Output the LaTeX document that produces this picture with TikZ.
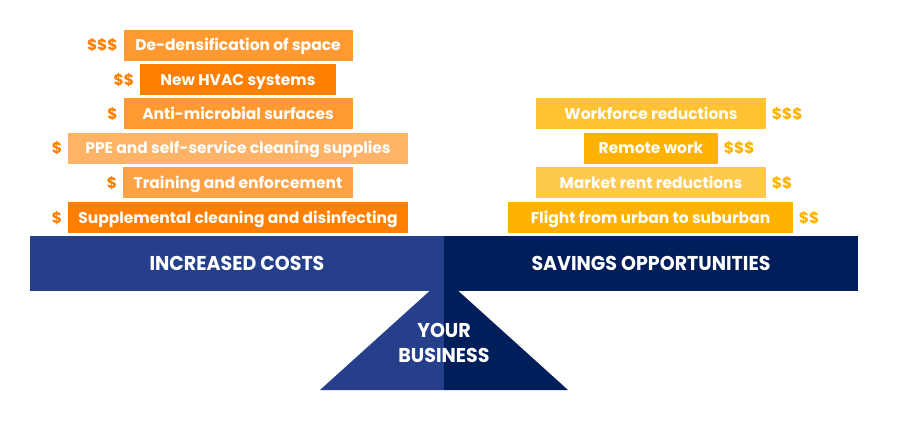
\documentclass[tikz,border=0pt]{standalone}
\usepackage{fontspec}
\setmainfont{Poppins}
\newfontfamily\beamfont[FakeStretch=0.95]{Poppins}
\usetikzlibrary{positioning}

\definecolor{costmid}{HTML}{FF9A33}
\definecolor{costdark}{HTML}{FF8000}
\definecolor{costlight}{HTML}{FFB366}
\definecolor{costsoft}{HTML}{FFA245}
\definecolor{savemid}{HTML}{FFC233}
\definecolor{savedark}{HTML}{FFB300}
\definecolor{savelight}{HTML}{FFC94D}
\definecolor{navylight}{HTML}{253F8A}
\definecolor{navydark}{HTML}{001E5A}

\tikzset{
  item/.style={fill=#1, text=white, font=\bfseries\fontsize{15.5}{17}\selectfont,
    minimum height=31pt, inner sep=0pt, text height=11pt, text depth=0pt},
  price/.style={text=#1, font=\bfseries\fontsize{15.5}{17}\selectfont, inner sep=0pt,
    text height=11pt, text depth=0pt},
  half/.style={fill=#1, text=white, font=\beamfont\bfseries\fontsize{20}{22}\selectfont,
    minimum width=414pt, minimum height=55pt, inner sep=0pt, text height=14pt, text depth=0pt},
}

\begin{document}
\begin{tikzpicture}[x=1pt,y=-1pt,node distance=5.5pt]
    \useasboundingbox (0,0) rectangle (900,423);
    % fulcrum
    \coordinate (top) at (444,278);
    \coordinate (baseL) at (320,390);
    \coordinate (baseR) at (568,390);
    \coordinate (baseM) at (444,390);
    \fill[navylight] (top) -- (baseL) -- (baseM) -- cycle;
    \fill[navydark] (top) -- (baseM) -- (baseR) -- cycle;
    \node[text=white, font=\beamfont\bfseries\fontsize{20}{25}\selectfont, align=center]
        (business) at (444,343) {YOUR\\BUSINESS};
    % beam
    \node[half=navylight] (costs) at (237,263.5) {INCREASED COSTS};
    \node[half=navydark] (savings) at (651,263.5) {SAVINGS OPPORTUNITIES};
    % increased costs
    \node[item=costmid, minimum width=229pt] (dedens) at (238,45) {De-densification of space};
    \node[item=costdark, minimum width=196pt] (hvac) at (238,79.5) {New HVAC systems};
    \node[item=costmid, minimum width=229pt] (micro) at (238,113.5) {Anti-microbial surfaces};
    \node[item=costlight, minimum width=340pt] (ppe) at (238,148) {PPE and self-service cleaning supplies};
    \node[item=costsoft, minimum width=230pt] (training) at (238,182.5) {Training and enforcement};
    \node[item=costdark, minimum width=340pt] (suppl) at (238,217.5) {Supplemental cleaning and disinfecting};
    \node[price=costdark, left=of dedens] {\$\$\$};
    \node[price=costdark, left=of hvac] {\$\$};
    \node[price=costdark, left=of micro] {\$};
    \node[price=costdark, left=of ppe] {\$};
    \node[price=costdark, left=of training] {\$};
    \node[price=costdark, left=of suppl] {\$};
    % savings
    \node[item=savemid, minimum width=230pt] (workforce) at (651,113.5) {Workforce reductions};
    \node[item=savedark, minimum width=134pt] (remote) at (651,148) {Remote work};
    \node[item=savelight, minimum width=230pt] (rent) at (651,182.5) {Market rent reductions};
    \node[item=savedark, minimum width=285pt] (flight) at (650.5,217.5) {Flight from urban to suburban};
    \node[price=savedark, right=of workforce] {\$\$\$};
    \node[price=savedark, right=of remote] {\$\$\$};
    \node[price=savedark, right=of rent] {\$\$};
    \node[price=savedark, right=of flight] {\$\$};
\end{tikzpicture}
\end{document}
